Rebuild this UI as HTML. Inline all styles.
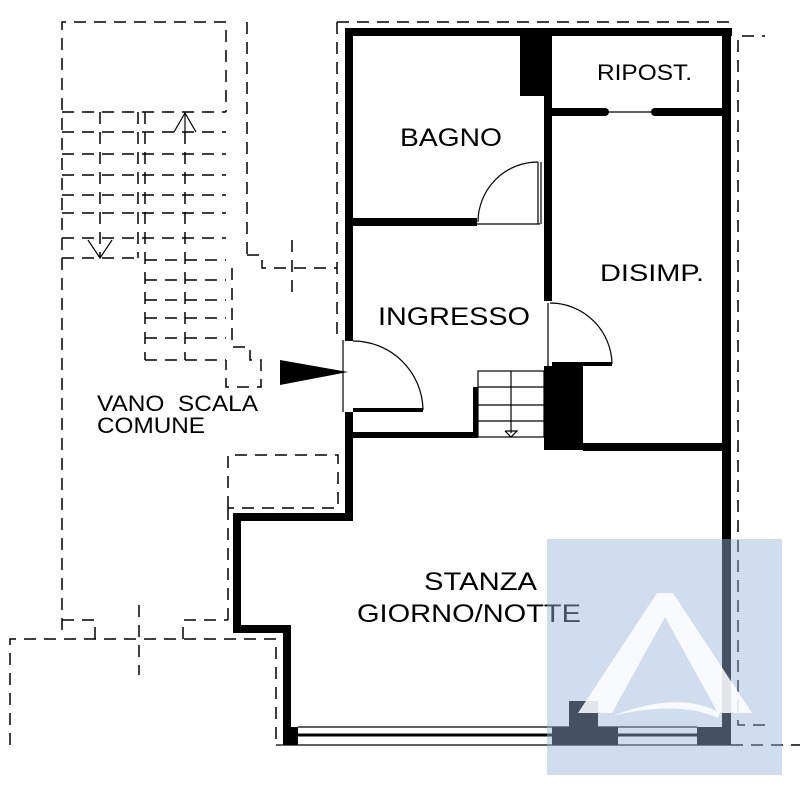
<!DOCTYPE html>
<html><head><meta charset="utf-8"><style>
html,body{margin:0;padding:0;background:#fff;}
svg{display:block}
text{font-family:"Liberation Sans",sans-serif;fill:#000}
</style></head><body>
<svg width="800" height="790" viewBox="0 0 800 790" xmlns="http://www.w3.org/2000/svg">
<g fill="none" stroke="#000" stroke-width="1.5" stroke-dasharray="12,8">
  <polyline points="62,630 62,22 226,22 226,112"/>
  <line x1="247" y1="22" x2="247" y2="255"/>
  <polyline points="247,255 262,255 262,268 337,268"/>
  <polyline points="337,22 732,22"/>
  <line x1="337" y1="22" x2="337" y2="335"/>
  <polyline points="765,725 738,725 738,36 765,36"/>
  <polyline points="232,268 232,347 250,347 250,360 261,360 261,387 226,387 226,360"/>
  <line x1="292" y1="240" x2="292" y2="295"/>
  <line x1="62" y1="112" x2="226" y2="112"/>
  <line x1="62" y1="132" x2="226" y2="132"/>
  <line x1="62" y1="154" x2="226" y2="154"/>
  <line x1="62" y1="175" x2="226" y2="175"/>
  <line x1="62" y1="195" x2="226" y2="195"/>
  <line x1="62" y1="213" x2="226" y2="213"/>
  <line x1="62" y1="238" x2="226" y2="238"/>
  <line x1="62" y1="258" x2="140" y2="258"/>
  <line x1="145" y1="260" x2="226" y2="260"/>
  <line x1="145" y1="280" x2="226" y2="280"/>
  <line x1="145" y1="300" x2="226" y2="300"/>
  <line x1="145" y1="318" x2="226" y2="318"/>
  <line x1="145" y1="338" x2="226" y2="338"/>
  <line x1="145" y1="360" x2="226" y2="360"/>
  <line x1="100" y1="112" x2="100" y2="258"/>
  <line x1="138" y1="112" x2="138" y2="258"/>
  <line x1="145" y1="112" x2="145" y2="360"/>
  <line x1="185" y1="132" x2="185" y2="360"/>
  <polyline points="228,508 228,455 338,455 338,508 228,508"/>
  <line x1="228" y1="508" x2="228" y2="620"/>
  <polyline points="62,620 95,620 95,639"/>
  <polyline points="183,639 183,620 228,620"/>
  <polyline points="10,745 10,639 276,639 276,745"/>
  <line x1="139" y1="605" x2="139" y2="675"/>
  <line x1="731" y1="745" x2="800" y2="745"/>
</g>
<g fill="none" stroke="#000" stroke-width="1.2">
  <polyline points="174,132 185,113 196,132"/><line x1="185" y1="113" x2="185" y2="132"/>
  <polyline points="88,240 100,258 112,240"/>
</g>
<g fill="#000">
  <rect x="345" y="28" width="387" height="8"/>
  <rect x="722" y="28" width="9" height="717"/>
  <rect x="345" y="28" width="8" height="313"/>
  <rect x="345" y="412" width="8" height="109"/>
  <rect x="233" y="513" width="120" height="8"/>
  <rect x="233" y="513" width="8" height="120"/>
  <rect x="233" y="625" width="58" height="8"/>
  <rect x="283" y="625" width="8" height="120"/>
  <rect x="283" y="727" width="15" height="18"/>
  <rect x="552" y="727" width="66" height="18"/>
  <rect x="569" y="701" width="29" height="30"/>
  <rect x="697" y="727" width="34" height="18"/>
  <rect x="353" y="218" width="124" height="8"/>
  <rect x="520" y="36" width="32" height="60"/>
  <rect x="544" y="36" width="8" height="265"/>
  <rect x="552" y="108" width="53" height="8"/>
  <rect x="655" y="108" width="67" height="8"/>
  <circle cx="605" cy="112" r="4"/><circle cx="655" cy="112" r="4"/>
  <rect x="544" y="366" width="39" height="84"/>
  <rect x="583" y="443" width="139" height="8"/>
  <rect x="353" y="432" width="124" height="6"/>
  <rect x="473" y="387" width="5" height="51"/>
  <rect x="552" y="362" width="60" height="4"/>
  <rect x="353" y="408" width="70" height="4"/>
  <polygon points="280,360 348,372 280,385"/>
</g>
<g fill="none" stroke="#000" stroke-width="1.2">
  <line x1="298" y1="727" x2="697" y2="727"/>
  <line x1="298" y1="735" x2="697" y2="735" stroke-width="3"/>
  <line x1="276" y1="745" x2="731" y2="745"/>
  <line x1="343" y1="340" x2="343" y2="412"/>
  <path d="M353,341 A70,70 0 0 1 423,410"/>
  <line x1="477" y1="224" x2="540" y2="224"/>
  <line x1="538" y1="162" x2="538" y2="224"/>
  <line x1="541" y1="162" x2="541" y2="224"/>
  <path d="M538,162 A60,60 0 0 0 478,222"/>
  <line x1="605" y1="112" x2="655" y2="112"/>
  <line x1="548" y1="303" x2="548" y2="366"/>
  <path d="M550,303 A62,62 0 0 1 612,364"/>
  <rect x="478" y="371" width="66" height="66"/>
  <line x1="478" y1="387" x2="544" y2="387"/>
  <line x1="478" y1="405" x2="544" y2="405"/>
  <line x1="478" y1="421" x2="544" y2="421"/>
  <line x1="511" y1="371" x2="511" y2="433"/>
  <polyline points="505,431 511,437 517,431 505,431"/>
</g>
<text x="400" y="146" font-size="25" textLength="102" lengthAdjust="spacingAndGlyphs">BAGNO</text>
<text x="597" y="80" font-size="22" textLength="95" lengthAdjust="spacingAndGlyphs">RIPOST.</text>
<text x="600" y="281" font-size="24" textLength="104" lengthAdjust="spacingAndGlyphs">DISIMP.</text>
<text x="378" y="325" font-size="25" textLength="152" lengthAdjust="spacingAndGlyphs">INGRESSO</text>
<text x="97" y="411" font-size="22" textLength="161" lengthAdjust="spacingAndGlyphs">VANO&#160;&#160;SCALA</text>
<text x="97" y="433" font-size="22" textLength="108" lengthAdjust="spacingAndGlyphs">COMUNE</text>
<text x="424" y="590" font-size="25" textLength="113" lengthAdjust="spacingAndGlyphs">STANZA</text>
<text x="357" y="622" font-size="25" textLength="224" lengthAdjust="spacingAndGlyphs">GIORNO/NOTTE</text>
<rect x="547" y="539" width="235" height="236" fill="rgb(150,180,220)" fill-opacity="0.45"/>
<g fill="#fff" fill-opacity="0.85">
  <polygon points="578,713 657,593 673,593 752,713 718,713 665,617 612,713"/>
  <path d="M612,716 Q680,690 720,713 L718,718 Q680,700 612,716Z"/>
</g>
</svg>
</body></html>
